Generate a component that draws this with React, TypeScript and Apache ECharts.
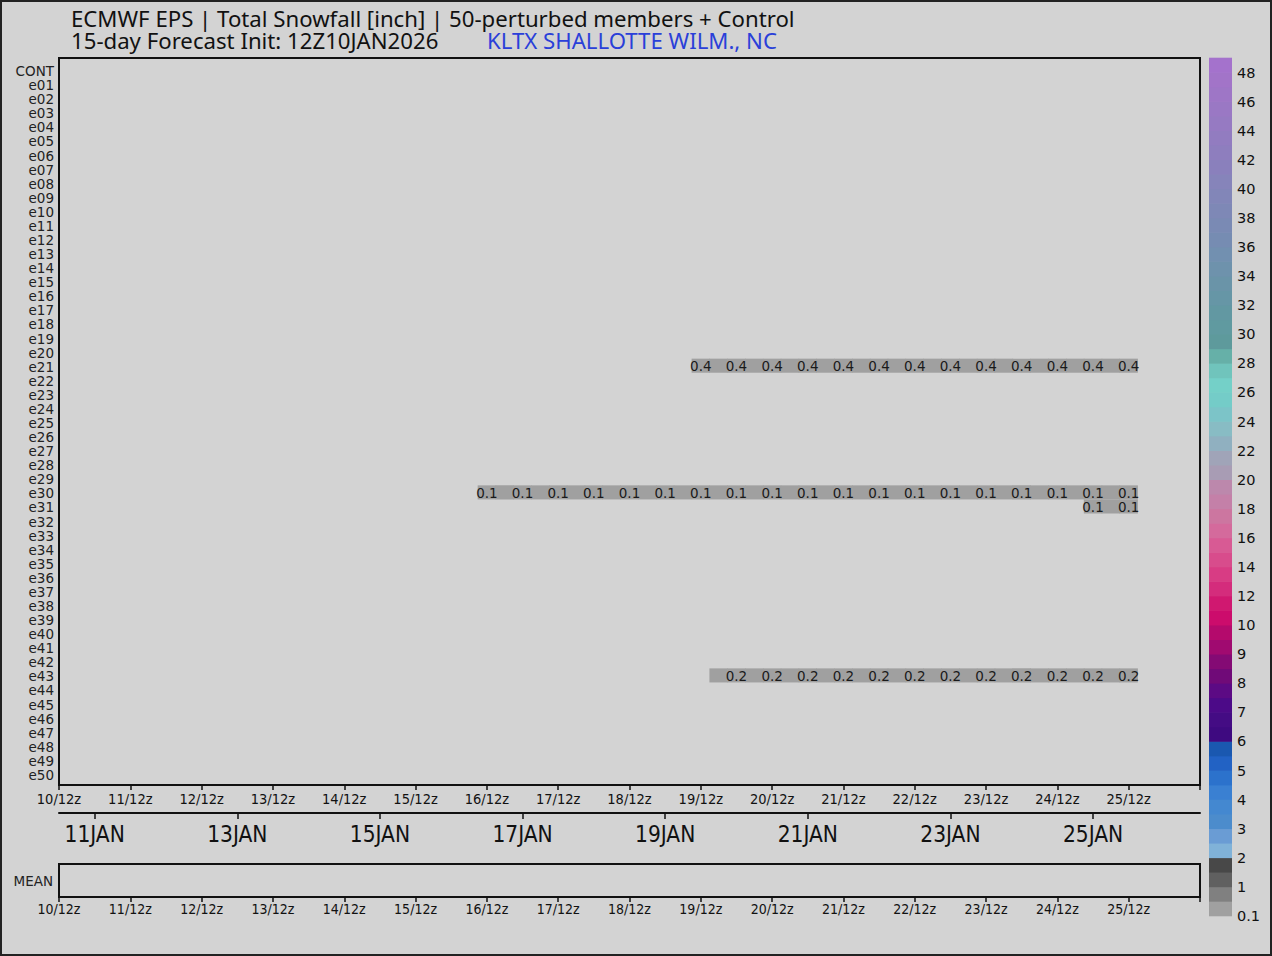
import React, { useEffect, useRef } from 'react';
import * as echarts from 'echarts';

const TITLE_1 = 'ECMWF EPS | Total Snowfall [inch] | 50-perturbed members + Control';
const TITLE_2 = '15-day Forecast Init: 12Z10JAN2026';
const STATION = 'KLTX SHALLOTTE WILM., NC';

const members = [
  'CONT', 'e01', 'e02', 'e03', 'e04', 'e05', 'e06', 'e07', 'e08', 'e09', 'e10',
  'e11', 'e12', 'e13', 'e14', 'e15', 'e16', 'e17', 'e18', 'e19', 'e20',
  'e21', 'e22', 'e23', 'e24', 'e25', 'e26', 'e27', 'e28', 'e29', 'e30',
  'e31', 'e32', 'e33', 'e34', 'e35', 'e36', 'e37', 'e38', 'e39', 'e40',
  'e41', 'e42', 'e43', 'e44', 'e45', 'e46', 'e47', 'e48', 'e49', 'e50',
];

// hours since init (10/12z)
const AXIS_MAX_HOURS = 384;
const STEP_HOURS = 6;
const timeTickLabels = [
  '10/12z', '11/12z', '12/12z', '13/12z', '14/12z', '15/12z', '16/12z', '17/12z',
  '18/12z', '19/12z', '20/12z', '21/12z', '22/12z', '23/12z', '24/12z', '25/12z',
];
const dateLabelHours = [12, 60, 108, 156, 204, 252, 300, 348];
const dateLabels = ['11JAN', '13JAN', '15JAN', '17JAN', '19JAN', '21JAN', '23JAN', '25JAN'];

// accumulated snowfall [inch], 6-hourly, from the given start hour
const e21Start = 216;
const e21Snow = [0.4, 0.4, 0.4, 0.4, 0.4, 0.4, 0.4, 0.4, 0.4, 0.4, 0.4, 0.4, 0.4,
  0.4, 0.4, 0.4, 0.4, 0.4, 0.4, 0.4, 0.4, 0.4, 0.4, 0.4, 0.4];
const e30Start = 144;
const e30Snow = [0.1, 0.1, 0.1, 0.1, 0.1, 0.1, 0.1, 0.1, 0.1, 0.1, 0.1, 0.1, 0.1,
  0.1, 0.1, 0.1, 0.1, 0.1, 0.1, 0.1, 0.1, 0.1, 0.1, 0.1, 0.1, 0.1, 0.1, 0.1, 0.1,
  0.1, 0.1, 0.1, 0.1, 0.1, 0.1, 0.1, 0.1];
const e31Start = 348;
const e31Snow = [0.1, 0.1, 0.1];
const e43Start = 222;
const e43Snow = [0.2, 0.2, 0.2, 0.2, 0.2, 0.2, 0.2, 0.2, 0.2, 0.2, 0.2, 0.2,
  0.2, 0.2, 0.2, 0.2, 0.2, 0.2, 0.2, 0.2, 0.2, 0.2, 0.2, 0.2];

const snowMembers = [
  { member: 'e21', start: e21Start, values: e21Snow },
  { member: 'e30', start: e30Start, values: e30Snow },
  { member: 'e31', start: e31Start, values: e31Snow },
  { member: 'e43', start: e43Start, values: e43Snow },
];

// colour bar
const cbLevels = [0.1, 1, 2, 3, 4, 5, 6, 7, 8, 9, 10, 12, 14, 16, 18, 20, 22, 24, 26,
  28, 30, 32, 34, 36, 38, 40, 42, 44, 46, 48];
const cbLabels = ['0.1', '1', '2', '3', '4', '5', '6', '7', '8', '9', '10', '12', '14',
  '16', '18', '20', '22', '24', '26', '28', '30', '32', '34', '36', '38', '40', '42',
  '44', '46', '48'];
const cbColors = [
  '#a0a0a0', '#808080', '#606060', '#484848',
  '#80b2d8', '#6a9cd4', '#4c8ccc', '#4488d0', '#3a80d2', '#2c72cc', '#2262c4', '#1a58b0',
  '#3e0a80', '#440c84', '#4c0a88', '#5c0a84', '#700a78', '#840a74', '#a00a70', '#b40a6c',
  '#cc0c6c', '#d01870', '#d42c7c', '#d83c84', '#d84c8c', '#d85a94', '#d46a9c', '#cc76a0',
  '#c480a8', '#bc88ac', '#a89cb4', '#a0a4b8', '#90b0c0', '#88bcc4', '#7cc4c8', '#74ccc8',
  '#74d0c8', '#70c4bc', '#66b0a8', '#5e9a9c', '#609aa0', '#6298a2', '#6696a6', '#6a94a8',
  '#6e92ac', '#7290b0', '#768cb2', '#7a8ab4', '#7e88b6', '#8286b8', '#8684ba', '#8a80bc',
  '#8e7ebe', '#927cc0', '#967ac2', '#9a78c4', '#9e76c6', '#a274c8', '#a472cc',
];

function colorFor(v: number): string {
  let k = 0;
  for (let i = 0; i < cbLevels.length; i++) if (v >= cbLevels[i]) k = i;
  const next = cbLevels[k + 1] ?? cbLevels[k] + 2;
  const sub = v >= (cbLevels[k] + next) / 2 ? 1 : 0;
  return cbColors[Math.min(2 * k + sub, cbColors.length - 1)];
}

const COND = "'DejaVu Sans Condensed', 'Liberation Sans Narrow', 'DejaVu Sans', sans-serif";
const DEJ = "'DejaVu Sans', sans-serif";
const NOTO = "'Noto Sans', sans-serif";
const INK = '#111';

export default function App() {
  const ref = useRef<HTMLDivElement>(null);
  useEffect(() => {
    document.body.style.margin = '0';
    if (!ref.current) return;
    const chart = echarts.init(ref.current, undefined, { renderer: 'svg' });

    const cells: any[] = [];
    snowMembers.forEach((m) => {
      const row = members.indexOf(m.member);
      m.values.forEach((v, i) => {
        cells.push([m.start + STEP_HOURS * i, row, v]);
      });
    });
    const cbData = cbColors.map((c, i) => [i, c]);

    const timeAxis = (gridIndex: number, fontSize: number, margin: number) => ({
      type: 'value', gridIndex, min: 0, max: AXIS_MAX_HOURS, interval: 24,
      axisLine: { show: true, onZero: false, lineStyle: { color: INK, width: 2 } },
      axisTick: { show: true, length: 5, lineStyle: { color: INK, width: 1.5 } },
      axisLabel: {
        show: true, margin, fontSize, fontFamily: COND, color: INK,
        formatter: (v: number) => timeTickLabels[v / 24] ?? '',
      },
      splitLine: { show: false },
    });

    chart.setOption({
      animation: false,
      backgroundColor: '#d3d3d3',
      grid: [
        { left: 59, top: 58, width: 1141, height: 727, show: true, borderColor: INK, borderWidth: 2, backgroundColor: 'transparent' },
        { left: 59, top: 64, width: 1141, height: 718 },
        { left: 59, top: 812, width: 1141, height: 1 },
        { left: 59, top: 864, width: 1141, height: 33, show: true, borderColor: INK, borderWidth: 2, backgroundColor: 'transparent' },
        { left: 1209, top: 58, width: 23, height: 858 },
      ],
      xAxis: [
        timeAxis(0, 14.5, 6),
        { type: 'value', gridIndex: 1, min: 0, max: AXIS_MAX_HOURS, show: false },
        {
          type: 'value', gridIndex: 2, min: 0, max: AXIS_MAX_HOURS,
          axisLine: { show: true, onZero: false, lineStyle: { color: INK, width: 2 } },
          axisTick: { show: true, length: 6, customValues: dateLabelHours, lineStyle: { color: INK, width: 1.5 } },
          axisLabel: {
            show: true, margin: 9, fontSize: 22.5, fontFamily: COND, color: INK,
            customValues: dateLabelHours,
            formatter: (v: number) => dateLabels[dateLabelHours.indexOf(v)] ?? '',
          },
          splitLine: { show: false },
        },
        timeAxis(3, 14, 5),
        { type: 'value', gridIndex: 4, min: 0, max: 1, show: false },
      ],
      yAxis: [
        { type: 'value', gridIndex: 0, show: false },
        {
          type: 'category', gridIndex: 1, data: members, inverse: true,
          axisLine: { show: false }, axisTick: { show: false },
          axisLabel: { interval: 0, margin: 5, fontSize: 13.5, lineHeight: 14, fontFamily: DEJ, color: '#222' },
          splitLine: { show: false },
        },
        { type: 'value', gridIndex: 2, show: false },
        {
          type: 'category', gridIndex: 3, data: ['MEAN'],
          axisLine: { show: false }, axisTick: { show: false },
          axisLabel: { margin: 6, fontSize: 13.5, fontFamily: DEJ, color: '#222' },
        },
        {
          type: 'value', gridIndex: 4, min: 0, max: cbColors.length, interval: 2, position: 'right',
          axisLine: { show: false }, axisTick: { show: false }, splitLine: { show: false },
          axisLabel: {
            margin: 5, fontSize: 14.5, fontFamily: DEJ, color: INK,
            formatter: (v: number) => (v % 2 === 0 ? cbLabels[v / 2] ?? '' : ''),
          },
        },
      ],
      series: [
        {
          type: 'custom', xAxisIndex: 1, yAxisIndex: 1, data: cells,
          renderItem: (params: any, api: any) => {
            const h = api.value(0);
            const r = api.value(1);
            const v = api.value(2);
            const p0 = api.coord([h - STEP_HOURS / 2, r]);
            const p1 = api.coord([h + STEP_HOURS / 2, r]);
            const rowH = api.size([0, 1])[1];
            const children: any[] = [
              {
                type: 'rect', z2: 0,
                shape: { x: p0[0] - 0.3, y: p0[1] - rowH / 2 - 1, width: p1[0] - p0[0] + 0.6, height: rowH },
                style: { fill: colorFor(v) },
              },
            ];
            if (h % 12 === 0) {
              children.push({
                type: 'text', z2: 10,
                style: {
                  text: String(v), x: (p0[0] + p1[0]) / 2, y: p0[1] - 0.5,
                  align: 'center', verticalAlign: 'middle',
                  fontSize: 13.5, fontFamily: DEJ, fill: '#1a1a1a',
                },
              });
            }
            return { type: 'group', children };
          },
        },
        {
          type: 'custom', xAxisIndex: 4, yAxisIndex: 4, data: cbData,
          renderItem: (params: any, api: any) => {
            const i = api.value(0);
            const p0 = api.coord([0, i + 1]);
            const p1 = api.coord([1, i]);
            return {
              type: 'rect',
              shape: { x: p0[0], y: p0[1] - 0.3, width: p1[0] - p0[0], height: p1[1] - p0[1] + 0.6 },
              style: { fill: cbColors[i] },
            };
          },
        },
      ],
      graphic: [
        { type: 'rect', shape: { x: 1, y: 1, width: 1270, height: 954 }, style: { fill: 'none', stroke: '#222', lineWidth: 2 }, silent: true },
        { type: 'text', x: 71, y: 18, style: { text: TITLE_1, fontSize: 22.2, lineHeight: 21, fontFamily: NOTO, fill: INK, verticalAlign: 'middle' } },
        { type: 'text', x: 71, y: 40.5, style: { text: TITLE_2, fontSize: 22.2, lineHeight: 21, fontFamily: NOTO, fill: INK, verticalAlign: 'middle' } },
        { type: 'text', x: 487, y: 40.5, style: { text: STATION, fontSize: 22.2, lineHeight: 21, fontFamily: NOTO, fill: '#2a3fd9', verticalAlign: 'middle' } },
      ],
    });
    return () => chart.dispose();
  }, []);
  return <div ref={ref} style={{ width: 1272, height: 956 }} />;
}
